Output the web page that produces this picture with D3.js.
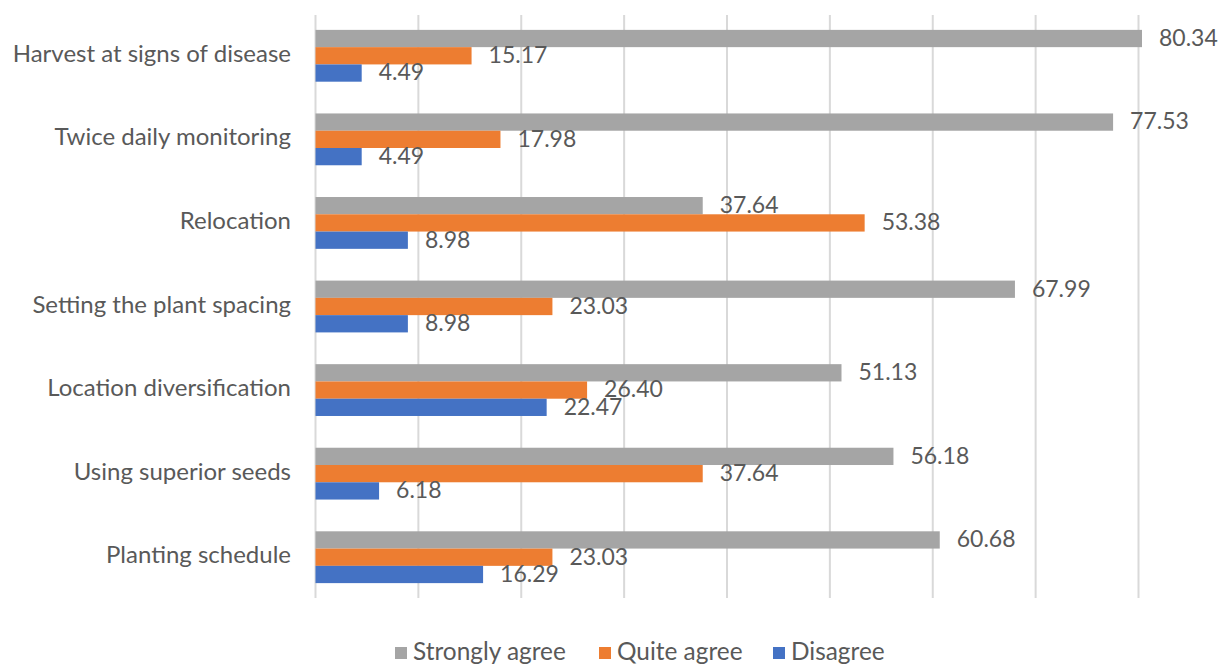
<!DOCTYPE html>
<html><head><meta charset="utf-8">
<script src="https://cdn.jsdelivr.net/npm/d3@7"></script>
<style>body{margin:0;background:#fff}svg{display:block}text{font-family:Lato,"Open Sans",sans-serif;fill:#595959}</style>
</head><body>
<svg id="c" width="1227" height="665"></svg>
<script>
const categories = ["Harvest at signs of disease","Twice daily monitoring","Relocation","Setting the plant spacing","Location diversification","Using superior seeds","Planting schedule"];
const seriesNames = ["Strongly agree","Quite agree","Disagree"];
const stronglyAgree = [80.34,77.53,37.64,67.99,51.13,56.18,60.68];
const quiteAgree = [15.17,17.98,53.38,23.03,26.40,37.64,23.03];
const disagree = [4.49,4.49,8.98,8.98,22.47,6.18,16.29];
const colors = ["#A5A5A5","#ED7D31","#4472C4"];
const xTicks = [0,10,20,30,40,50,60,70,80];

const seriesVals = [stronglyAgree, quiteAgree, disagree];
const svg = d3.select("#c");
const x = d3.scaleLinear().domain([0,80]).range([315.5,1138.5]);
const y = d3.scaleBand().domain(categories).range([14,599]).paddingInner(0.38).paddingOuter(0.19);
const ys = d3.scaleBand().domain(seriesNames).range([0,y.bandwidth()]);

// gridlines
svg.append("g").selectAll("line").data(xTicks).join("line")
  .attr("x1",d=>x(d)).attr("x2",d=>x(d)).attr("y1",15).attr("y2",598)
  .attr("stroke","#d9d9d9").attr("stroke-width",2);

// bars
const groups = svg.append("g").selectAll("g").data(categories).join("g")
  .attr("transform",c=>`translate(0,${y(c)})`);
seriesNames.forEach((s,si)=>{
  groups.append("rect")
    .attr("x",x(0)).attr("y",ys(s))
    .attr("width",(c,i)=>x(seriesVals[si][i])-x(0))
    .attr("height",ys.bandwidth())
    .attr("fill",colors[si]);
  groups.append("text")
    .attr("x",(c,i)=>x(seriesVals[si][i])+17)
    .attr("y",ys(s)+ys.bandwidth()/2+1.5)
    .attr("dominant-baseline","middle")
    .attr("font-size",23)
    .text((c,i)=>seriesVals[si][i].toFixed(2));
});

// category labels
svg.append("g").selectAll("text").data(categories).join("text")
  .attr("x",291).attr("y",c=>y(c)+y.bandwidth()/2)
  .attr("text-anchor","end").attr("dominant-baseline","middle")
  .attr("font-size",24).text(c=>c);

// legend
const legX = [395,599,773];
const leg = svg.append("g").selectAll("g").data(seriesNames).join("g")
  .attr("transform",(d,i)=>`translate(${legX[i]},653)`);
leg.append("rect").attr("x",0).attr("y",-6).attr("width",12).attr("height",12).attr("fill",(d,i)=>colors[i]);
leg.append("text").attr("x",18).attr("y",1).attr("dominant-baseline","middle").attr("font-size",24.4).text(d=>d);
</script>
</body></html>
